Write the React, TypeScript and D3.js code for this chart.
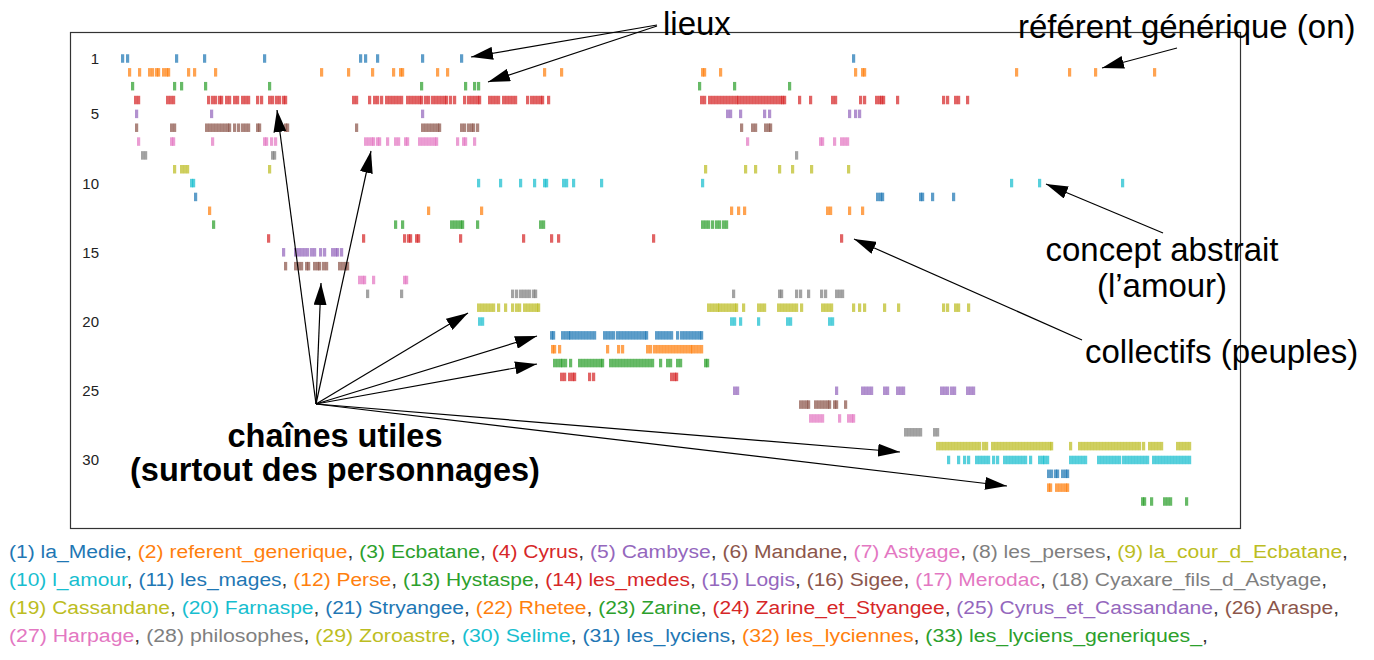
import React, { useEffect, useRef } from 'react';
import * as d3 from 'd3';

// Chain names (legend order = row order)
const chainNames = [
  'la_Medie', 'referent_generique', 'Ecbatane', 'Cyrus', 'Cambyse', 'Mandane', 'Astyage',
  'les_perses', 'la_cour_d_Ecbatane', 'l_amour', 'les_mages', 'Perse', 'Hystaspe', 'les_medes',
  'Logis', 'Sigee', 'Merodac', 'Cyaxare_fils_d_Astyage', 'Cassandane', 'Farnaspe', 'Stryangee',
  'Rhetee', 'Zarine', 'Zarine_et_Styangee', 'Cyrus_et_Cassandane', 'Araspe', 'Harpage',
  'philosophes', 'Zoroastre', 'Selime', 'les_lyciens', 'les_lyciennes', 'les_lyciens_generiques_',
];

// Mention positions (text position units) for each chain
const laMedie = [51, 56, 105, 133, 193, 289, 294, 306, 351, 390, 782];
const referentGenerique = [58, 68, 78, 81, 85, 87, 92, 95, 97, 117, 123, 144, 250, 277, 301, 322, 329, 331, 366, 376, 473, 490, 631, 633, 649, 784, 791, 793, 945, 998, 1024, 1083];
const ecbatane = [61, 103, 110, 134, 198, 350, 394, 403, 407, 628, 663, 718];
const cyrus = [64, 67, 96, 99, 102, 137, 141, 144, 148, 150, 155, 158, 163, 166, 171, 174, 177, 186, 190, 198, 201, 205, 208, 212, 214, 282, 285, 298, 303, 306, 310, 315, 318, 321, 324, 327, 330, 336, 339, 342, 345, 348, 350, 354, 357, 361, 364, 367, 370, 373, 375, 379, 383, 393, 397, 400, 403, 406, 408, 418, 421, 424, 427, 432, 435, 438, 441, 444, 456, 460, 463, 466, 469, 471, 477, 630, 633, 638, 641, 644, 647, 650, 653, 656, 659, 662, 665, 667, 670, 673, 676, 679, 682, 685, 688, 691, 694, 697, 700, 703, 706, 709, 711, 713, 728, 739, 761, 764, 789, 793, 805, 808, 810, 812, 826, 872, 876, 884, 887, 896];
const cambyse = [65, 140, 351, 656, 659, 669, 693, 698, 778, 784, 788];
const mandane = [65, 100, 103, 135, 138, 141, 144, 147, 150, 153, 156, 158, 163, 167, 171, 174, 177, 186, 188, 214, 216, 285, 351, 354, 357, 360, 363, 366, 368, 390, 393, 397, 400, 402, 406, 670, 681, 684, 694, 697, 699];
const astyage = [67, 100, 102, 141, 193, 195, 200, 204, 294, 297, 300, 302, 306, 308, 316, 324, 327, 334, 336, 348, 351, 354, 357, 360, 363, 365, 386, 392, 394, 403, 676, 749, 751, 763, 770, 773, 776];
const lesPerses = [71, 74, 201, 203, 725];
const laCourDEcbatane = [103, 110, 113, 116, 198, 634, 674, 684, 708, 721, 740, 777];
const lAmour = [120, 122, 407, 429, 449, 463, 473, 475, 492, 495, 502, 530, 631, 940, 968, 1051];
const lesMages = [124, 806, 809, 811, 849, 851, 861, 882];
const perse = [138, 357, 410, 660, 667, 673, 756, 759, 778, 791];
const hystaspe = [142, 324, 331, 380, 383, 386, 389, 391, 406, 469, 472, 631, 634, 637, 641, 645, 648, 652, 655];
const lesMedes = [197, 292, 333, 337, 339, 345, 347, 389, 452, 480, 487, 582, 770];
const logis = [212, 224, 227, 230, 233, 236, 240, 243, 249, 253, 261, 264, 266, 270];
const sigee = [214, 224, 227, 230, 235, 237, 243, 246, 248, 252, 255, 268, 271, 274, 276];
const merodac = [288, 291, 293, 302, 333, 335];
const cyaxare = [296, 330, 441, 445, 449, 452, 455, 458, 462, 464, 662, 708, 710, 725, 729, 737, 750, 754, 765, 768, 771];
const cassandane = [407, 410, 413, 416, 419, 422, 427, 434, 441, 445, 448, 453, 456, 459, 462, 465, 467, 637, 640, 643, 646, 648, 651, 654, 657, 660, 663, 665, 672, 687, 690, 693, 707, 710, 713, 716, 719, 722, 725, 730, 751, 754, 757, 760, 782, 788, 793, 813, 827, 872, 876, 884, 887, 897];
const farnaspe = [408, 411, 660, 663, 669, 687, 716, 719, 758, 761];
const stryangee = [480, 482, 491, 494, 497, 499, 502, 505, 508, 511, 514, 517, 520, 523, 533, 536, 539, 542, 546, 549, 552, 555, 558, 561, 564, 567, 570, 573, 575, 585, 588, 591, 594, 597, 600, 606, 610, 613, 616, 619, 622, 625, 628, 630];
const rhetee = [481, 483, 488, 536, 547, 551, 576, 579, 583, 586, 589, 592, 595, 598, 601, 604, 607, 610, 613, 616, 619, 621, 624, 627, 630];
const zarine = [483, 486, 489, 491, 494, 499, 508, 511, 514, 517, 520, 523, 526, 529, 531, 539, 542, 545, 548, 551, 554, 557, 560, 563, 566, 569, 572, 575, 578, 581, 589, 596, 599, 606, 609, 634, 636];
const zarineEtStyangee = [490, 493, 498, 501, 503, 518, 522, 600, 603, 605];
const cyrusEtCassandane = [663, 666, 765, 791, 794, 797, 800, 813, 816, 826, 829, 832, 870, 873, 876, 880, 883, 896, 899, 902];
const araspe = [729, 732, 735, 737, 744, 747, 750, 753, 756, 758, 763, 765, 774];
const harpage = [739, 742, 745, 748, 751, 768, 777, 780, 782];
const philosophes = [834, 837, 840, 843, 846, 849, 863, 866];
const zoroastre = [866, 869, 872, 875, 878, 881, 884, 887, 890, 893, 896, 899, 902, 905, 908, 912, 915, 921, 924, 927, 930, 933, 936, 939, 942, 945, 948, 951, 954, 957, 960, 963, 966, 969, 972, 975, 978, 980, 999, 1008, 1011, 1014, 1017, 1020, 1023, 1026, 1029, 1032, 1035, 1038, 1041, 1044, 1047, 1050, 1053, 1056, 1059, 1062, 1065, 1068, 1072, 1078, 1081, 1084, 1087, 1090, 1106, 1109, 1112, 1115, 1118];
const selime = [877, 887, 893, 897, 905, 908, 911, 914, 917, 922, 926, 933, 936, 939, 942, 945, 948, 951, 954, 959, 968, 971, 973, 976, 999, 1002, 1005, 1008, 1011, 1014, 1027, 1030, 1033, 1036, 1039, 1042, 1045, 1048, 1052, 1055, 1058, 1061, 1064, 1067, 1070, 1073, 1076, 1082, 1085, 1088, 1091, 1094, 1097, 1100, 1103, 1106, 1109, 1112, 1115, 1118];
const lesLyciens = [977, 980, 984, 986, 991, 994, 996];
const lesLyciennes = [977, 979, 985, 988, 991, 994, 996];
const lesLyciensGeneriques = [1071, 1073, 1080, 1093, 1096, 1099, 1115];

const chainPositions = [
  laMedie, referentGenerique, ecbatane, cyrus, cambyse, mandane, astyage, lesPerses,
  laCourDEcbatane, lAmour, lesMages, perse, hystaspe, lesMedes, logis, sigee, merodac,
  cyaxare, cassandane, farnaspe, stryangee, rhetee, zarine, zarineEtStyangee,
  cyrusEtCassandane, araspe, harpage, philosophes, zoroastre, selime, lesLyciens,
  lesLyciennes, lesLyciensGeneriques,
];

const rowTickLabels = [1, 5, 10, 15, 20, 25, 30];
const legendLineBreaks = [[1, 9], [10, 18], [19, 26], [27, 33]];

const W = 1374;
const H = 660;
const FONT = '"Liberation Sans", Arial, Helvetica, sans-serif';

export default function App() {
  const ref = useRef<SVGSVGElement>(null);

  useEffect(() => {
    const svg = d3.select(ref.current);
    svg.selectAll('*').remove();

    const x = d3.scaleLinear().domain([0, 1171]).range([70, 1241]);
    const y = d3.scaleLinear().domain([1, 33]).range([58.5, 501.5]);
    const color = (i: number) => d3.schemeCategory10[i % 10];

    const defs = svg.append('defs');
    defs.append('marker')
      .attr('id', 'arrowhead')
      .attr('markerUnits', 'userSpaceOnUse')
      .attr('viewBox', '0 0 22 13')
      .attr('markerWidth', 22)
      .attr('markerHeight', 13)
      .attr('refX', 22)
      .attr('refY', 6.5)
      .attr('orient', 'auto')
      .append('path')
      .attr('d', 'M0,0 L22,6.5 L0,13 Z')
      .attr('fill', '#000');

    // frame
    svg.append('rect')
      .attr('x', x(0) + 0.5)
      .attr('y', 32.5)
      .attr('width', x(1171) - x(0) - 1)
      .attr('height', 496)
      .attr('fill', 'none')
      .attr('stroke', '#333')
      .attr('stroke-width', 1.2);

    // row labels
    svg.append('g')
      .selectAll('text')
      .data(rowTickLabels)
      .join('text')
      .attr('x', 99)
      .attr('y', (d) => y(d) + 5.5)
      .attr('text-anchor', 'end')
      .attr('font-family', FONT)
      .attr('font-size', 15)
      .attr('fill', '#222')
      .text((d) => String(d));

    // marks
    const tickW = x(3.2) - x(0);
    const tickH = 8.5;
    const rows = svg.append('g');
    chainPositions.forEach((positions, i) => {
      rows.append('g')
        .selectAll('rect')
        .data(positions)
        .join('rect')
        .attr('x', (d) => x(d))
        .attr('y', y(i + 1) - tickH / 2)
        .attr('width', tickW)
        .attr('height', tickH)
        .attr('fill', color(i))
        .attr('fill-opacity', 0.72);
    });

    // annotations
    const ann = svg.append('g').attr('font-family', FONT).attr('fill', '#000');
    const addText = (t: string, tx: number, ty: number, anchor = 'start', bold = false, size = 33) =>
      ann.append('text')
        .attr('x', tx)
        .attr('y', ty)
        .attr('text-anchor', anchor)
        .attr('font-size', size)
        .attr('font-weight', bold ? 'bold' : 'normal')
        .text(t);

    addText('lieux', 663, 35);
    addText('référent générique (on)', 1018, 38);
    addText('concept abstrait', 1162, 261, 'middle');
    addText('(l\u2019amour)', 1162, 297, 'middle');
    addText('collectifs (peuples)', 1085, 363);
    addText('chaînes utiles', 335, 447, 'middle', true, 32.5);
    addText('(surtout des personnages)', 335, 481, 'middle', true, 32.5);

    const arrows: [number, number, number, number][] = [
      [657, 25, 471, 57],
      [657, 26, 488, 82],
      [1177, 48, 1102, 68],
      [1163, 233, 1046, 184],
      [1082, 340, 854, 239],
      [316, 404, 277, 110],
      [316, 404, 371, 151],
      [316, 404, 321, 283],
      [316, 404, 468, 313],
      [316, 404, 537, 336],
      [316, 404, 537, 364],
      [316, 404, 900, 452],
      [316, 404, 1007, 486],
    ];
    svg.append('g')
      .selectAll('line')
      .data(arrows)
      .join('line')
      .attr('x1', (d) => d[0])
      .attr('y1', (d) => d[1])
      .attr('x2', (d) => d[2])
      .attr('y2', (d) => d[3])
      .attr('stroke', '#000')
      .attr('stroke-width', 1.2)
      .attr('marker-end', 'url(#arrowhead)');

    // legend
    const legendBaselines = [558, 586, 614, 642];
    const legendLengths = [1339, 1318, 1330, 1199];
    legendLineBreaks.forEach(([a, b], li) => {
      const t = svg.append('text')
        .attr('x', 9)
        .attr('y', legendBaselines[li])
        .attr('font-family', FONT)
        .attr('font-size', 18)
        .attr('textLength', legendLengths[li])
        .attr('lengthAdjust', 'spacingAndGlyphs')
        .style('white-space', 'pre');
      for (let k = a; k <= b; k++) {
        t.append('tspan').attr('fill', color(k - 1)).text(`(${k}) ${chainNames[k - 1]}`);
        t.append('tspan').attr('fill', '#333').text(k === b ? ',' : ', ');
      }
    });
  }, []);

  return (
    <svg
      ref={ref}
      width={W}
      height={H}
      style={{ position: 'absolute', left: 0, top: 0, display: 'block', background: '#fff' }}
    />
  );
}
